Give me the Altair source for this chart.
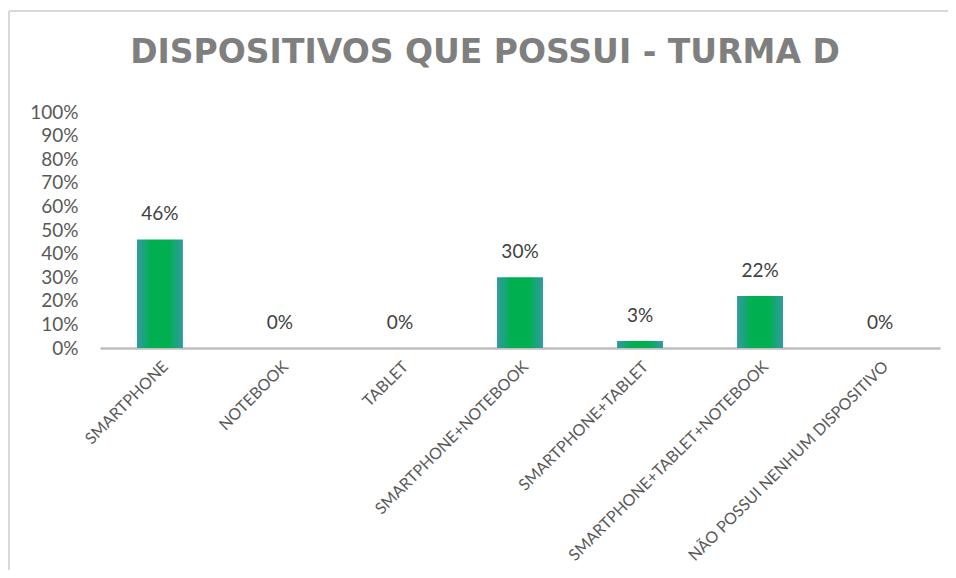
import altair as alt
import pandas as pd

categories = ["SMARTPHONE", "NOTEBOOK", "TABLET", "SMARTPHONE+NOTEBOOK",
              "SMARTPHONE+TABLET", "SMARTPHONE+TABLET+NOTEBOOK",
              "NÃO POSSUI NENHUM DISPOSITIVO"]
values = [0.46, 0.0, 0.0, 0.30, 0.03, 0.22, 0.0]
y_ticks = [0.0, 0.1, 0.2, 0.3, 0.4, 0.5, 0.6, 0.7, 0.8, 0.9, 1.0]

df = pd.DataFrame({"cat": categories, "val": values})

FONT = "Lato"
GRAY = "#595959"

x = alt.X("cat:N", sort=categories, title=None,
          scale=alt.Scale(paddingInner=0.617, paddingOuter=0.308),
          axis=alt.Axis(labelAngle=-45, labelFontSize=16, labelColor=GRAY,
                        labelFont=FONT, ticks=False, domainColor="#bfbfbf",
                        domainWidth=2.5, labelPadding=10, labelLimit=400))
y = alt.Y("val:Q", title=None,
          scale=alt.Scale(domain=[0, 1]),
          axis=alt.Axis(format=".0%", values=y_ticks, labelOverlap=False,
                        labelFontSize=19, labelColor=GRAY, labelFont=FONT,
                        grid=False, ticks=False, domain=False, labelPadding=22))

grad = alt.Gradient(gradient="linear", x1=0, x2=1, y1=0, y2=0,
                    stops=[alt.GradientStop(offset=0, color="#3399a6"),
                           alt.GradientStop(offset=0.3, color="#00b050"),
                           alt.GradientStop(offset=0.7, color="#00b050"),
                           alt.GradientStop(offset=1, color="#3399a6")])

bars = alt.Chart(df).mark_bar(color=grad).encode(x=x, y=y)
labels = alt.Chart(df).mark_text(dy=-25, baseline="middle", fontSize=19,
                                 font=FONT, color="#404040").encode(
    x=x, y=y, text=alt.Text("val:Q", format=".0%"))

frame_top = alt.Chart(df).mark_rule(color="#d9d9d9", strokeWidth=1.5).encode(
    x=alt.value(-91), x2=alt.value(848), y=alt.value(-101))
frame_left = alt.Chart(df).mark_rule(color="#d9d9d9", strokeWidth=1.5).encode(
    x=alt.value(-91), y=alt.value(-101), y2=alt.value(460))

chart = (frame_top + frame_left + bars + labels).properties(
    width=840, height=236,
    title=alt.TitleParams("DISPOSITIVOS QUE POSSUI - TURMA D", fontSize=33,
                          font="DejaVu Sans", fontWeight="bold", color="#7f7f7f",
                          anchor="middle", dx=-35, offset=-60),
    autosize=alt.AutoSizeParams(type="none"),
    padding={"left": 92, "top": 104, "right": 8, "bottom": 222},
).configure_view(stroke=None)

chart.save("out.html", embed_options={"renderer": "svg", "actions": False})
